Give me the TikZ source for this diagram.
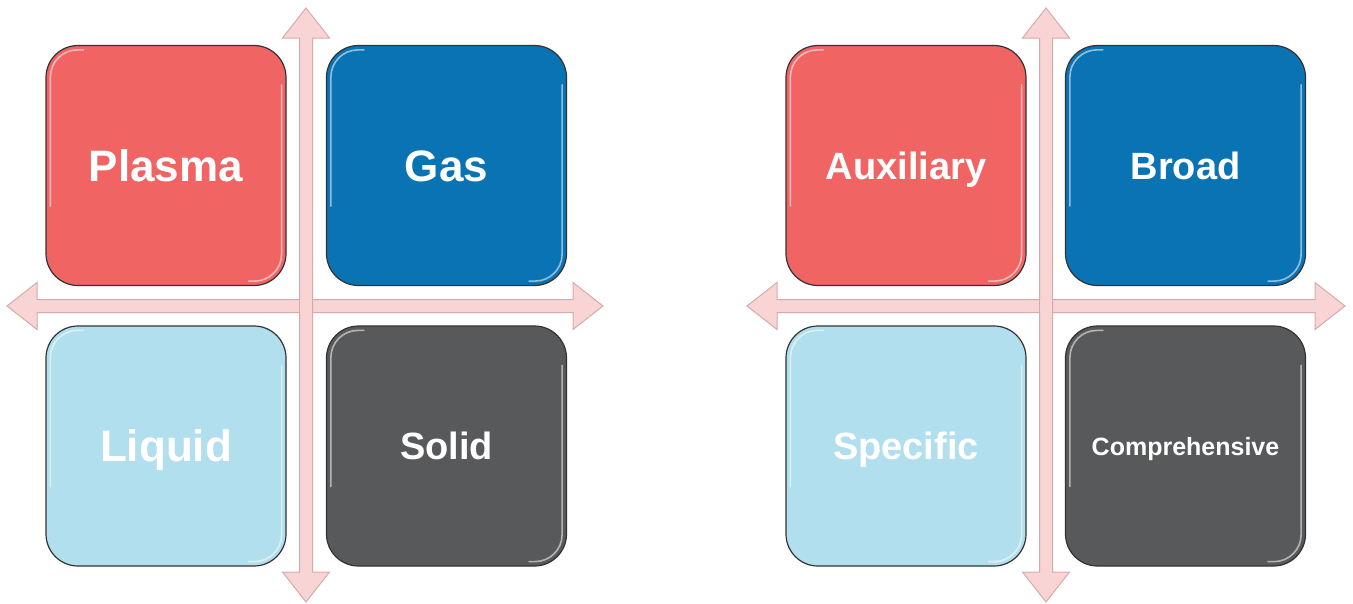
\documentclass[tikz,border=0pt]{standalone}
\usepackage{fontspec}
\setmainfont{Liberation Sans}
\definecolor{cred}{HTML}{F06464}
\definecolor{cblue}{HTML}{0A73B4}
\definecolor{clight}{HTML}{B1DFEE}
\definecolor{cdark}{HTML}{58595B}
\definecolor{afill}{HTML}{F9D4D4}
\definecolor{aline}{HTML}{D6AAAA}
\tikzset{
  quad/.style={draw=black!80, line width=1.2pt, rounded corners=32pt,
    minimum width=240pt, minimum height=240pt, inner sep=0pt,
    text=white, font=\bfseries\fontsize{44}{50}\selectfont,
    text height=31.5pt, text depth=0pt},
  midtext/.style={font=\bfseries\fontsize{38}{44}\selectfont, text height=27.2pt},
  smalltext/.style={font=\bfseries\fontsize{25}{30}\selectfont, text height=18pt},
  arrowshape/.style={fill=afill, draw=aline, line width=1pt, line join=miter},
  gloss/.style={draw=white, opacity=0.55, line width=1.6pt, rounded corners=27pt, line cap=round},
}
\begin{document}
\begin{tikzpicture}[x=1pt,y=-1pt]
\useasboundingbox (0,0) rectangle (1353,603);
% ---------- arrows ----------
\foreach \cx/\xl/\xr in {306/7/603, 1046/747/1345} {
  % horizontal double arrow, center y = 306
  \draw[arrowshape] (\xl,306) -- (\xl+30,282.5) -- (\xl+30,299.5) -- (\xr-30,299.5)
     -- (\xr-30,282.5) -- (\xr,306) -- (\xr-30,329.5) -- (\xr-30,312.5)
     -- (\xl+30,312.5) -- (\xl+30,329.5) -- cycle;
  % vertical double arrow
  \draw[arrowshape] (\cx,8) -- (\cx+23.5,38) -- (\cx+6.5,38) -- (\cx+6.5,572)
     -- (\cx+23.5,572) -- (\cx,602) -- (\cx-23.5,572) -- (\cx-6.5,572)
     -- (\cx-6.5,38) -- (\cx-23.5,38) -- cycle;
  \fill[afill] (\cx-5.9,300.1) rectangle (\cx+5.9,311.9);
}
% ---------- boxes ----------
\node[quad, fill=cred]   (plasma) at (166,165.5)   {Plasma};
\node[quad, fill=cblue]  (gas)    at (446.5,165.5) {Gas};
\node[quad, fill=clight] (liquid) at (166,446)     {Liquid};
\node[quad, fill=cdark, midtext]  (solid)  at (446.5,446)   {Solid};
\node[quad, fill=cred, midtext]   (aux)    at (906,165.5)   {Auxiliary};
\node[quad, fill=cblue, midtext]  (broad)  at (1185.5,165.5){Broad};
\node[quad, fill=clight, midtext] (spec)   at (906,446)     {Specific};
\node[quad, fill=cdark, smalltext] (comp) at (1185.5,446) {Comprehensive};
% ---------- gloss highlights ----------
\foreach \n in {plasma,gas,liquid,solid,aux,broad,spec,comp} {
  \draw[gloss] ([shift={(5,-80)}]\n.south west) -- ([shift={(5,5)}]\n.north west) -- ([shift={(38,5)}]\n.north west);
  \draw[gloss] ([shift={(-5,40)}]\n.north east) -- ([shift={(-5,-5)}]\n.south east) -- ([shift={(-38,-5)}]\n.south east);
}
\end{tikzpicture}
\end{document}
